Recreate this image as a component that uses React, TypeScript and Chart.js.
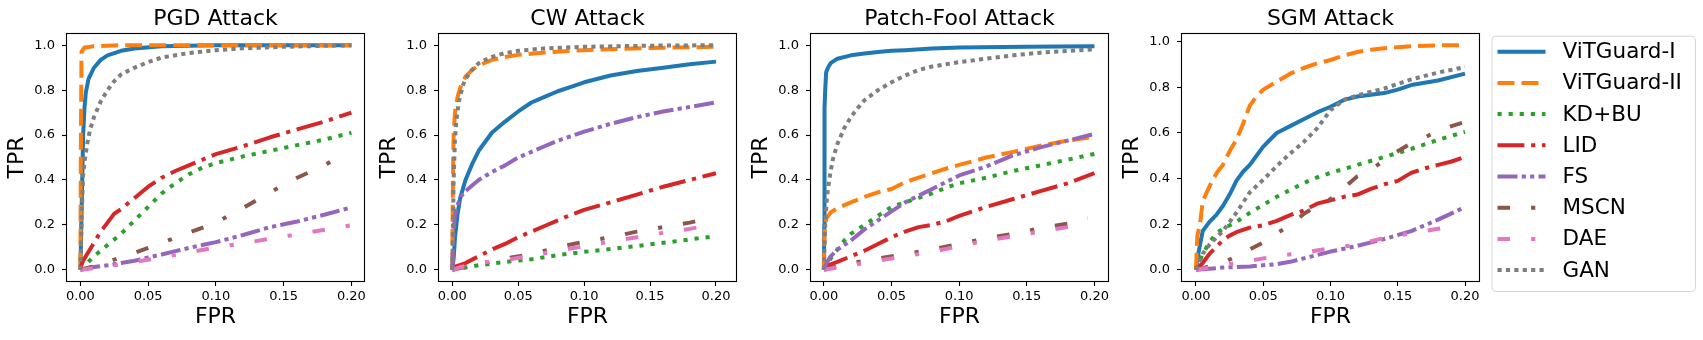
import React, { useEffect, useRef } from 'react';
import { Chart, registerables } from 'chart.js';

Chart.register(...registerables);

const FONT = '"DejaVu Sans", "Liberation Sans", sans-serif';

// ---------- labels ----------
const SERIES_NAMES = ['ViTGuard-I', 'ViTGuard-II', 'KD+BU', 'LID', 'FS', 'MSCN', 'DAE', 'GAN'];
const PANEL_TITLES = ['PGD Attack', 'CW Attack', 'Patch-Fool Attack', 'SGM Attack'];
const X_TICKS = [0, 0.05, 0.1, 0.15, 0.2];
const Y_TICKS = [0, 0.2, 0.4, 0.6, 0.8, 1.0];
const X_LABEL = 'FPR';
const Y_LABEL = 'TPR';

// ---------- data: [FPR, TPR] ----------
// PGD
const pgdViTGuard1: number[][] = [[0, 0], [0.001, 0.3], [0.002, 0.6], [0.003, 0.72], [0.004, 0.79], [0.006, 0.85], [0.01, 0.9], [0.015, 0.935], [0.02, 0.955], [0.03, 0.975], [0.04, 0.985], [0.06, 0.995], [0.08, 0.998], [0.1, 1], [0.2, 1]];
const pgdViTGuard2: number[][] = [[0, 0], [0.0003, 0.5], [0.0008, 0.97], [0.003, 0.99], [0.01, 0.995], [0.03, 1], [0.2, 1]];
const pgdKDBU: number[][] = [[0, 0], [0.005, 0.03], [0.01, 0.06], [0.02, 0.11], [0.03, 0.16], [0.04, 0.22], [0.05, 0.28], [0.06, 0.34], [0.07, 0.385], [0.08, 0.425], [0.09, 0.455], [0.1, 0.475], [0.12, 0.505], [0.14, 0.53], [0.16, 0.555], [0.18, 0.58], [0.2, 0.61]];
const pgdLID: number[][] = [[0, 0.01], [0.002, 0.04], [0.005, 0.07], [0.01, 0.12], [0.015, 0.17], [0.02, 0.21], [0.025, 0.25], [0.03, 0.27], [0.04, 0.32], [0.05, 0.37], [0.06, 0.41], [0.07, 0.44], [0.08, 0.465], [0.09, 0.49], [0.1, 0.515], [0.12, 0.55], [0.14, 0.59], [0.16, 0.625], [0.18, 0.66], [0.2, 0.7]];
const pgdFS: number[][] = [[0, 0], [0.01, 0.012], [0.02, 0.02], [0.03, 0.03], [0.04, 0.04], [0.05, 0.055], [0.06, 0.068], [0.07, 0.083], [0.08, 0.097], [0.09, 0.11], [0.1, 0.123], [0.12, 0.155], [0.14, 0.19], [0.16, 0.215], [0.18, 0.245], [0.2, 0.278]];
const pgdMSCN: number[][] = [[0, 0], [0.01, 0.015], [0.02, 0.035], [0.04, 0.075], [0.06, 0.12], [0.08, 0.165], [0.1, 0.21], [0.12, 0.275], [0.14, 0.345], [0.16, 0.41], [0.18, 0.465], [0.19, 0.5]];
const pgdDAE: number[][] = [[0, 0], [0.02, 0.015], [0.04, 0.035], [0.06, 0.055], [0.08, 0.077], [0.1, 0.1], [0.12, 0.118], [0.14, 0.138], [0.16, 0.158], [0.18, 0.178], [0.2, 0.198]];
const pgdGAN: number[][] = [[0, 0], [0.001, 0.25], [0.002, 0.42], [0.003, 0.48], [0.005, 0.56], [0.007, 0.62], [0.01, 0.68], [0.015, 0.75], [0.02, 0.8], [0.025, 0.84], [0.03, 0.87], [0.04, 0.9], [0.05, 0.925], [0.06, 0.945], [0.08, 0.965], [0.1, 0.978], [0.12, 0.986], [0.15, 0.993], [0.2, 1.0]];

// CW
const cwViTGuard1: number[][] = [[0, 0], [0.001, 0.05], [0.002, 0.14], [0.004, 0.25], [0.006, 0.32], [0.01, 0.4], [0.015, 0.47], [0.02, 0.53], [0.025, 0.57], [0.03, 0.61], [0.04, 0.66], [0.05, 0.705], [0.06, 0.745], [0.07, 0.77], [0.08, 0.795], [0.09, 0.815], [0.1, 0.835], [0.12, 0.865], [0.14, 0.885], [0.16, 0.9], [0.18, 0.915], [0.2, 0.927]];
const cwViTGuard2: number[][] = [[0, 0], [0.0003, 0.3], [0.0007, 0.5], [0.001, 0.6], [0.002, 0.7], [0.004, 0.77], [0.006, 0.81], [0.01, 0.86], [0.015, 0.89], [0.02, 0.91], [0.03, 0.935], [0.04, 0.948], [0.05, 0.957], [0.07, 0.968], [0.1, 0.978], [0.15, 0.988], [0.2, 0.993]];
const cwKDBU: number[][] = [[0, 0], [0.01, 0.01], [0.02, 0.02], [0.04, 0.035], [0.06, 0.047], [0.08, 0.065], [0.1, 0.08], [0.12, 0.092], [0.14, 0.106], [0.16, 0.12], [0.18, 0.135], [0.2, 0.15]];
const cwLID: number[][] = [[0, 0.01], [0.01, 0.03], [0.02, 0.06], [0.03, 0.09], [0.04, 0.115], [0.05, 0.145], [0.06, 0.17], [0.07, 0.195], [0.08, 0.22], [0.09, 0.245], [0.1, 0.267], [0.12, 0.3], [0.14, 0.335], [0.16, 0.37], [0.18, 0.4], [0.2, 0.43]];
const cwFS: number[][] = [[0, 0], [0.0005, 0.1], [0.001, 0.18], [0.002, 0.24], [0.004, 0.29], [0.007, 0.33], [0.01, 0.35], [0.015, 0.375], [0.02, 0.4], [0.03, 0.435], [0.04, 0.465], [0.05, 0.5], [0.06, 0.525], [0.07, 0.55], [0.08, 0.575], [0.1, 0.615], [0.12, 0.65], [0.14, 0.68], [0.16, 0.705], [0.18, 0.725], [0.2, 0.745]];
const cwMSCN: number[][] = [[0, 0], [0.02, 0.025], [0.04, 0.05], [0.06, 0.07], [0.08, 0.1], [0.1, 0.125], [0.12, 0.145], [0.14, 0.17], [0.16, 0.19], [0.18, 0.21], [0.195, 0.23]];
const cwDAE: number[][] = [[0, 0], [0.005, 0.01], [0.02, 0.03], [0.04, 0.043], [0.06, 0.062], [0.08, 0.085], [0.1, 0.105], [0.12, 0.125], [0.14, 0.145], [0.16, 0.165], [0.18, 0.182], [0.19, 0.193]];
const cwGAN: number[][] = [[0, 0], [0.0005, 0.2], [0.001, 0.4], [0.002, 0.58], [0.003, 0.66], [0.005, 0.75], [0.008, 0.82], [0.01, 0.85], [0.015, 0.89], [0.02, 0.92], [0.025, 0.935], [0.03, 0.948], [0.04, 0.965], [0.05, 0.975], [0.07, 0.986], [0.1, 0.993], [0.15, 0.998], [0.2, 1.0]];

// Patch-Fool
const pfViTGuard1: number[][] = [[0, 0], [0.0003, 0.2], [0.0005, 0.72], [0.001, 0.8], [0.0017, 0.88], [0.003, 0.9], [0.005, 0.92], [0.01, 0.94], [0.02, 0.955], [0.03, 0.963], [0.04, 0.97], [0.05, 0.975], [0.06, 0.978], [0.08, 0.985], [0.1, 0.99], [0.15, 0.993], [0.2, 0.995]];
const pfViTGuard2: number[][] = [[0, 0], [0.0005, 0.15], [0.001, 0.2], [0.002, 0.23], [0.005, 0.255], [0.01, 0.275], [0.02, 0.3], [0.03, 0.325], [0.04, 0.345], [0.05, 0.36], [0.06, 0.39], [0.07, 0.41], [0.08, 0.43], [0.09, 0.45], [0.1, 0.467], [0.12, 0.5], [0.14, 0.525], [0.16, 0.552], [0.18, 0.575], [0.2, 0.593]];
const pfKDBU: number[][] = [[0, 0], [0.002, 0.02], [0.005, 0.05], [0.01, 0.09], [0.015, 0.13], [0.02, 0.16], [0.03, 0.2], [0.04, 0.24], [0.05, 0.28], [0.06, 0.3], [0.07, 0.32], [0.08, 0.34], [0.09, 0.365], [0.1, 0.385], [0.12, 0.41], [0.14, 0.44], [0.16, 0.465], [0.18, 0.49], [0.2, 0.516]];
const pfLID: number[][] = [[0, 0], [0.003, 0.02], [0.01, 0.035], [0.02, 0.06], [0.03, 0.085], [0.04, 0.115], [0.05, 0.145], [0.06, 0.17], [0.07, 0.19], [0.08, 0.2], [0.09, 0.215], [0.1, 0.24], [0.12, 0.28], [0.14, 0.315], [0.16, 0.35], [0.18, 0.385], [0.2, 0.43]];
const pfFS: number[][] = [[0, 0], [0.002, 0.03], [0.005, 0.06], [0.01, 0.09], [0.02, 0.13], [0.03, 0.18], [0.04, 0.22], [0.05, 0.26], [0.06, 0.3], [0.07, 0.33], [0.08, 0.36], [0.09, 0.39], [0.1, 0.42], [0.12, 0.46], [0.14, 0.51], [0.16, 0.545], [0.18, 0.575], [0.2, 0.605]];
const pfMSCN: number[][] = [[0, 0], [0.02, 0.03], [0.04, 0.05], [0.06, 0.07], [0.08, 0.09], [0.1, 0.115], [0.12, 0.14], [0.14, 0.16], [0.16, 0.185], [0.18, 0.205], [0.195, 0.23]];
const pfDAE: number[][] = [[0, 0], [0.02, 0.02], [0.04, 0.04], [0.06, 0.06], [0.08, 0.08], [0.1, 0.105], [0.12, 0.13], [0.14, 0.15], [0.16, 0.17], [0.18, 0.19], [0.195, 0.2]];
const pfGAN: number[][] = [[0, 0], [0.0005, 0.1], [0.001, 0.2], [0.002, 0.3], [0.003, 0.36], [0.005, 0.44], [0.007, 0.5], [0.01, 0.56], [0.015, 0.63], [0.02, 0.68], [0.025, 0.72], [0.03, 0.755], [0.04, 0.8], [0.05, 0.835], [0.06, 0.865], [0.07, 0.89], [0.08, 0.905], [0.09, 0.915], [0.1, 0.925], [0.12, 0.94], [0.14, 0.955], [0.16, 0.967], [0.18, 0.975], [0.2, 0.982]];

// SGM
const sgmViTGuard1: number[][] = [[0, 0], [0.002, 0.08], [0.005, 0.17], [0.01, 0.21], [0.015, 0.24], [0.02, 0.28], [0.025, 0.33], [0.03, 0.39], [0.035, 0.43], [0.04, 0.46], [0.045, 0.5], [0.05, 0.54], [0.06, 0.6], [0.07, 0.63], [0.08, 0.66], [0.09, 0.69], [0.1, 0.715], [0.11, 0.745], [0.12, 0.76], [0.14, 0.775], [0.15, 0.79], [0.16, 0.81], [0.18, 0.83], [0.2, 0.86]];
const sgmViTGuard2: number[][] = [[0, 0], [0.001, 0.15], [0.003, 0.2], [0.005, 0.3], [0.008, 0.34], [0.012, 0.39], [0.016, 0.43], [0.02, 0.46], [0.025, 0.52], [0.03, 0.57], [0.035, 0.64], [0.04, 0.72], [0.045, 0.76], [0.05, 0.79], [0.06, 0.825], [0.07, 0.86], [0.08, 0.885], [0.09, 0.905], [0.1, 0.92], [0.11, 0.94], [0.12, 0.955], [0.13, 0.965], [0.14, 0.972], [0.16, 0.98], [0.18, 0.984], [0.2, 0.985]];
const sgmKDBU: number[][] = [[0, 0], [0.005, 0.07], [0.01, 0.12], [0.015, 0.16], [0.02, 0.18], [0.03, 0.21], [0.04, 0.25], [0.05, 0.285], [0.06, 0.32], [0.07, 0.35], [0.08, 0.38], [0.09, 0.405], [0.1, 0.425], [0.12, 0.46], [0.14, 0.495], [0.16, 0.53], [0.18, 0.57], [0.2, 0.605]];
const sgmLID: number[][] = [[0, 0], [0.005, 0.03], [0.01, 0.07], [0.015, 0.1], [0.02, 0.13], [0.025, 0.15], [0.03, 0.165], [0.04, 0.185], [0.05, 0.195], [0.06, 0.215], [0.07, 0.24], [0.08, 0.26], [0.09, 0.29], [0.1, 0.305], [0.11, 0.32], [0.12, 0.33], [0.13, 0.355], [0.14, 0.375], [0.15, 0.39], [0.16, 0.425], [0.17, 0.445], [0.18, 0.46], [0.19, 0.475], [0.2, 0.495]];
const sgmFS: number[][] = [[0, 0], [0.02, 0.01], [0.04, 0.015], [0.06, 0.025], [0.07, 0.035], [0.08, 0.05], [0.09, 0.065], [0.1, 0.08], [0.12, 0.105], [0.14, 0.135], [0.16, 0.17], [0.18, 0.22], [0.2, 0.275]];
const sgmMSCN: number[][] = [[0, 0], [0.01, 0.015], [0.02, 0.03], [0.03, 0.06], [0.04, 0.09], [0.05, 0.12], [0.06, 0.16], [0.07, 0.195], [0.08, 0.245], [0.09, 0.28], [0.1, 0.31], [0.11, 0.36], [0.12, 0.41], [0.13, 0.44], [0.14, 0.48], [0.15, 0.52], [0.16, 0.555], [0.17, 0.58], [0.18, 0.61], [0.19, 0.63], [0.2, 0.648]];
const sgmDAE: number[][] = [[0, 0], [0.02, 0.02], [0.04, 0.04], [0.06, 0.06], [0.08, 0.075], [0.1, 0.095], [0.12, 0.11], [0.14, 0.14], [0.16, 0.16], [0.18, 0.18], [0.19, 0.19]];
const sgmGAN: number[][] = [[0, 0], [0.005, 0.07], [0.01, 0.11], [0.02, 0.17], [0.03, 0.25], [0.04, 0.34], [0.05, 0.395], [0.06, 0.455], [0.07, 0.51], [0.08, 0.56], [0.09, 0.62], [0.1, 0.7], [0.11, 0.745], [0.12, 0.765], [0.14, 0.795], [0.16, 0.835], [0.18, 0.865], [0.2, 0.889]];

const PANEL_DATA = [
  [pgdViTGuard1, pgdViTGuard2, pgdKDBU, pgdLID, pgdFS, pgdMSCN, pgdDAE, pgdGAN],
  [cwViTGuard1, cwViTGuard2, cwKDBU, cwLID, cwFS, cwMSCN, cwDAE, cwGAN],
  [pfViTGuard1, pfViTGuard2, pfKDBU, pfLID, pfFS, pfMSCN, pfDAE, pfGAN],
  [sgmViTGuard1, sgmViTGuard2, sgmKDBU, sgmLID, sgmFS, sgmMSCN, sgmDAE, sgmGAN],
];

// axis limits per panel (matplotlib auto margins)
const X_LIMITS = [[-0.0099, 0.2093], [-0.0101, 0.2152], [-0.0095, 0.21], [-0.0104, 0.2104]];
const Y_LIMITS = [[-0.05, 1.05], [-0.05, 1.05], [-0.05, 1.05], [-0.049, 1.034]];

// ---------- styles ----------
const COLORS = ['#1f77b4', '#ff7f0e', '#2ca02c', '#d62728', '#9467bd', '#8c564b', '#e377c2', '#7f7f7f'];
const DASHES = [
  [],
  [17, 7],
  [4.2, 6.9],
  [26.9, 6.7, 4.2, 6.7],
  [20, 4.2, 4.2, 4.2, 4.2, 4.2],
  [12.6, 21, 4.2, 21],
  [12.6, 21, 4.2, 21],
  [4.2, 4.2],
];
const LINE_WIDTH = 4;

// ---------- layout ----------
const CANVAS_LEFTS = [0, 372, 744, 1115];
const Y_AXIS_W = 67;
const PLOT_W = 297;
const PLOT_TOP = 34;
const CANVAS_H = 340;
const X_AXIS_H = 59;

const framePlugin = {
  id: 'frame',
  afterDatasetsDraw(chart: any) {
    const { ctx, chartArea } = chart;
    ctx.save();
    ctx.strokeStyle = '#000';
    ctx.lineWidth = 1.1;
    ctx.setLineDash([]);
    ctx.strokeRect(chartArea.left - 0.5, chartArea.top - 0.5, chartArea.right - chartArea.left + 1, chartArea.bottom - chartArea.top + 1);
    ctx.restore();
  },
};

const panelTitlePlugin = {
  id: 'panelTitle',
  afterDraw(chart: any, _args: any, opts: any) {
    const { ctx, chartArea } = chart;
    ctx.save();
    ctx.fillStyle = '#000';
    ctx.font = `22px ${FONT}`;
    ctx.textAlign = 'center';
    ctx.textBaseline = 'middle';
    ctx.fillText(opts.text, (chartArea.left + chartArea.right) / 2, 18.8);
    ctx.restore();
  },
};

const legendPlugin = {
  id: 'customLegend',
  afterDraw(chart: any) {
    const { ctx, chartArea } = chart;
    const bx = chartArea.right + 12.5;
    const by = 35.7;
    const bw = 203.5;
    const bh = 255.3;
    ctx.save();
    ctx.fillStyle = 'rgba(255,255,255,0.8)';
    ctx.strokeStyle = '#d6d6d6';
    ctx.lineWidth = 1;
    ctx.beginPath();
    (ctx as any).roundRect(bx + 0.5, by + 0.5, bw, bh, 4);
    ctx.fill();
    ctx.stroke();
    SERIES_NAMES.forEach((name, i) => {
      const cy = 51.7 + i * 31.2;
      ctx.beginPath();
      ctx.setLineDash(DASHES[i]);
      ctx.lineCap = 'butt';
      ctx.strokeStyle = COLORS[i];
      ctx.lineWidth = LINE_WIDTH;
      ctx.moveTo(bx + 6, cy);
      ctx.lineTo(bx + 54, cy);
      ctx.stroke();
      ctx.setLineDash([]);
      ctx.fillStyle = '#000';
      ctx.font = `21.5px ${FONT}`;
      ctx.textBaseline = 'middle';
      ctx.textAlign = 'left';
      ctx.fillText(name, bx + 71, cy + 1);
    });
    ctx.restore();
  },
};

function Panel({ index }: { index: number }) {
  const ref = useRef<HTMLCanvasElement | null>(null);
  const isLast = index === PANEL_TITLES.length - 1;
  const width = isLast ? 1703 - CANVAS_LEFTS[index] : Y_AXIS_W + PLOT_W + 20;
  const padRight = width - Y_AXIS_W - PLOT_W;

  useEffect(() => {
    if (!ref.current) return;
    const datasets = PANEL_DATA[index].map((pts, i) => ({
      label: SERIES_NAMES[i],
      data: pts.map((p) => ({ x: p[0], y: p[1] })),
      borderColor: COLORS[i],
      backgroundColor: COLORS[i],
      borderWidth: LINE_WIDTH,
      borderDash: DASHES[i],
      borderCapStyle: 'butt' as const,
      borderJoinStyle: 'round' as const,
      pointRadius: 0,
      pointHoverRadius: 0,
      tension: 0,
      fill: false,
      order: SERIES_NAMES.length - 1 - i,
    }));
    const chart = new Chart(ref.current, {
      type: 'line',
      data: { datasets },
      options: {
        animation: false,
        responsive: false,
        events: [],
        layout: { padding: { left: 0, right: padRight, top: PLOT_TOP, bottom: 0 } },
        plugins: {
          legend: { display: false },
          tooltip: { enabled: false },
          title: { display: false },
          panelTitle: { text: PANEL_TITLES[index] },
        } as any,
        scales: {
          x: {
            type: 'linear',
            min: X_LIMITS[index][0],
            max: X_LIMITS[index][1],
            afterBuildTicks: (scale: any) => {
              scale.ticks = X_TICKS.map((v) => ({ value: v }));
            },
            afterFit: (scale: any) => {
              scale.height = X_AXIS_H;
            },
            ticks: {
              color: '#000',
              font: { family: FONT, size: 13 },
              padding: 3,
              maxRotation: 0,
              autoSkip: false,
              callback: (v: any) => Number(v).toFixed(2),
            },
            grid: { display: true, drawOnChartArea: false, drawTicks: true, tickLength: 5, tickColor: '#000', tickWidth: 1.1 },
            border: { display: false },
            title: {
              display: true,
              text: X_LABEL,
              color: '#000',
              font: { family: FONT, size: 22, lineHeight: 1.2 },
              padding: { top: 0, bottom: 9.3 },
            },
          },
          y: {
            type: 'linear',
            min: Y_LIMITS[index][0],
            max: Y_LIMITS[index][1],
            afterBuildTicks: (scale: any) => {
              scale.ticks = Y_TICKS.map((v) => ({ value: v }));
            },
            afterFit: (scale: any) => {
              scale.width = Y_AXIS_W;
            },
            ticks: {
              color: '#000',
              font: { family: FONT, size: 13 },
              padding: 7,
              autoSkip: false,
              callback: (v: any) => Number(v).toFixed(1),
            },
            grid: { display: true, drawOnChartArea: false, drawTicks: true, tickLength: 5, tickColor: '#000', tickWidth: 1.1 },
            border: { display: false },
            title: {
              display: true,
              text: Y_LABEL,
              color: '#000',
              font: { family: FONT, size: 22, lineHeight: 1.2 },
              padding: { top: 4, bottom: 0 },
            },
          },
        },
      },
      plugins: isLast ? [framePlugin, panelTitlePlugin, legendPlugin] : [framePlugin, panelTitlePlugin],
    });
    return () => chart.destroy();
  }, [index, padRight]);

  return (
    <canvas
      ref={ref}
      width={width}
      height={CANVAS_H}
      style={{ position: 'absolute', left: CANVAS_LEFTS[index], top: 0, width, height: CANVAS_H }}
    />
  );
}

export default function App() {
  return (
    <div style={{ position: 'absolute', left: 0, top: 0, width: 1703, height: 340, background: '#fff', overflow: 'hidden' }}>
      {PANEL_TITLES.map((t, i) => (
        <Panel key={t} index={i} />
      ))}
    </div>
  );
}
